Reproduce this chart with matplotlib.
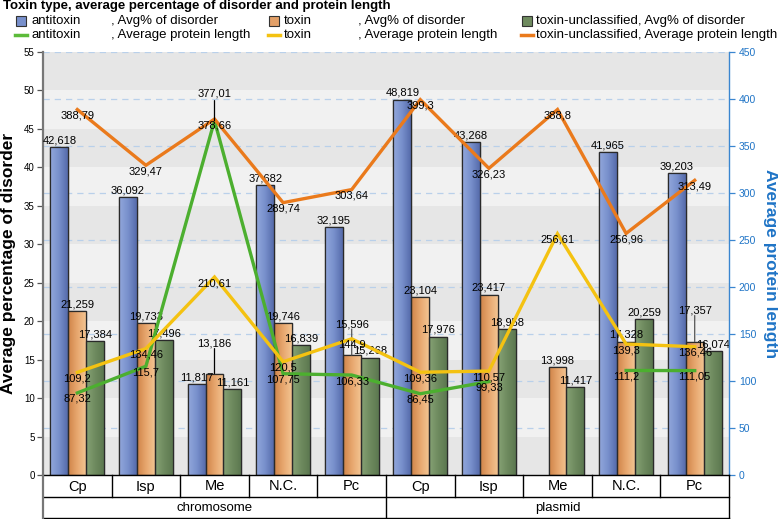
import numpy as np
import matplotlib
matplotlib.use("Agg")
import matplotlib.pyplot as plt
from matplotlib.colors import to_rgb
from matplotlib.lines import Line2D
from matplotlib.patches import Rectangle

plt.rcParams['font.family'] = ['Liberation Sans', 'DejaVu Sans']

# ---------------- data ----------------
categories = ["Cp", "Isp", "Me", "N.C.", "Pc", "Cp", "Isp", "Me", "N.C.", "Pc"]
groups = ["chromosome", "plasmid"]

antitoxin_dis = [42.618, 36.092, 11.817, 37.682, 32.195, 48.819, 43.268, np.nan, 41.965, 39.203]
toxin_dis = [21.259, 19.733, 13.186, 19.746, 15.596, 23.104, 23.417, 13.998, 17.328, 17.357]
unclass_dis = [17.384, 17.496, 11.161, 16.839, 15.268, 17.976, 18.958, 11.417, 20.259, 16.074]

antitoxin_len = [87.32, 115.7, 377.01, 107.75, 106.33, 86.45, 99.33, np.nan, 111.2, 111.05]
toxin_len = [109.2, 134.46, 210.61, 120.5, 144.9, 109.36, 110.57, 256.61, 139.3, 136.46]
unclass_len = [388.79, 329.47, 378.66, 289.74, 303.64, 399.3, 326.23, 388.8, 256.96, 313.49]

left_ticks = list(range(0, 56, 5))
right_ticks = list(range(0, 451, 50))

# ---------------- figure ----------------
W, H = 778, 519
fig = plt.figure(figsize=(W / 100, H / 100), dpi=100)
L, R, T, B = 43, 729, 52, 475
ax = fig.add_axes([L / W, 1 - B / H, (R - L) / W, (B - T) / H])
ax2 = ax.twinx()

n = len(categories)
x = np.arange(n)
ax.set_xlim(-0.5, n - 0.5)
ax.set_ylim(0, 55)
ax2.set_ylim(0, 450)


def fmt(v):
    s = f"{v:.3f}".rstrip("0").rstrip(".")
    return s.replace(".", ",")


# background bands
for k, lo in enumerate(range(0, 55, 5)):
    col = "#e6e6e6" if k % 2 == 0 else "#f1f1f1"
    ax.axhspan(lo, lo + 5, color=col, zorder=0, lw=0)
# dashed grid for right axis (drawn on left axis, behind bars)
for v in right_ticks[1:]:
    ax.axhline(v * 55 / 450, color="#b9d0ea", lw=0.9, ls=(0, (5, 4)), zorder=0.5)

bw = 0.262
bar_specs = [
    (antitoxin_dis, -bw, ("#93a8dc", "#7890cc", "#566bab")),
    (toxin_dis, 0.0, ("#cf8448", "#e7a66e", "#f3c491")),
    (unclass_dis, bw, ("#86a275", "#6f8b5f", "#5c7850")),
]


def gradient(c3, nstep=40):
    a, m, b = [np.array(to_rgb(c)) for c in c3]
    t = np.linspace(0, 1, nstep)
    out = []
    for tt in t:
        if tt < 0.5:
            out.append(a + (m - a) * tt * 2)
        else:
            out.append(m + (b - m) * (tt - 0.5) * 2)
    return np.array(out)[None, :, :]


for vals, off, cols in bar_specs:
    bars = ax.bar(x + off, vals, width=bw, color=cols[1], edgecolor="#2a2a2a",
                  linewidth=0.9, zorder=3)
    g = gradient(cols)
    for r in bars:
        h = r.get_height()
        if np.isnan(h):
            continue
        x0 = r.get_x()
        im = ax.imshow(g, extent=(x0, x0 + r.get_width(), 0, h), aspect="auto",
                       zorder=3.1, interpolation="bilinear")
        im.set_clip_path(r)
        r2 = Rectangle((x0, 0), r.get_width(), h, fill=False, edgecolor="#2a2a2a",
                       lw=0.9, zorder=3.2)
        ax.add_patch(r2)
ax.set_xlim(-0.5, n - 0.5)
ax.set_ylim(0, 55)
ax.set_aspect("auto")

# bar labels
lead = {(1, 2): 23, (1, 4): 24, (1, 9): 24}
for si, (vals, off, cols) in enumerate(bar_specs):
    for i, v in enumerate(vals):
        if np.isnan(v):
            continue
        d = lead.get((si, i), 0)
        ax.annotate(fmt(v), (x[i] + off, v), xytext=(0, 2 + d), textcoords="offset pixels",
                    ha="center", va="bottom", fontsize=8, color="black", zorder=6)
        if d:
            ax.annotate("", (x[i] + off, v), xytext=(0, d + 2), textcoords="offset pixels",
                        arrowprops=dict(arrowstyle="-", color="#555555" if si == 1 and i != 2 else "black",
                                        lw=0.9, shrinkA=0, shrinkB=0), zorder=6)

# lines
line_specs = [
    (antitoxin_len, "#4caf2f"),
    (toxin_len, "#f4c211"),
    (unclass_len, "#ea7a1c"),
]
for vals, c in line_specs:
    ax2.plot(x, vals, color=c, lw=2.4, zorder=4, solid_joinstyle="miter")

for si, (vals, c) in enumerate(line_specs):
    for i, v in enumerate(vals):
        if np.isnan(v):
            continue
        if si == 0 and i == 2:
            ax2.annotate(fmt(v), (x[i], v), xytext=(0, 27), textcoords="offset pixels",
                         ha="center", va="center", fontsize=8, zorder=7)
            ax2.annotate("", (x[i], v), xytext=(0, 20), textcoords="offset pixels",
                         arrowprops=dict(arrowstyle="-", color="black", lw=0.9,
                                         shrinkA=0, shrinkB=0), zorder=7)
            continue
        ax2.annotate(fmt(v), (x[i], v), xytext=(0, -6), textcoords="offset pixels",
                     ha="center", va="center", fontsize=8, zorder=7)

# axes styling
ax.set_xticks([])
ax.set_yticks(left_ticks)
ax.set_yticklabels([str(t) for t in left_ticks], fontsize=7)
ax.tick_params(axis="y", length=4, width=0.9, color="#555555", pad=2)
ax2.set_yticks(right_ticks)
ax2.set_yticklabels([str(t) for t in right_ticks], fontsize=7.5, color="#1f74c6")
ax2.tick_params(axis="y", length=4, width=0.9, color="#3a86d0", pad=3)
for a in (ax, ax2):
    for s in ("top", "bottom"):
        a.spines[s].set_visible(False)
ax.spines["right"].set_visible(False)
ax2.spines["left"].set_visible(False)
ax.spines["left"].set_color("#777777")
ax.spines["left"].set_linewidth(1.6)
ax2.spines["right"].set_color("#3a86d0")
ax2.spines["right"].set_linewidth(1.0)
ax.set_ylabel("Average percentage of disorder", fontsize=12.5, fontweight="bold", labelpad=6)
ax2.set_ylabel("Average protein length", fontsize=12.5, fontweight="bold",
               color="#1f74c6", rotation=270, labelpad=16)


# category table below the axis
def fy(p):
    return 1 - p / H


def fx(p):
    return p / W


cw = (R - L) / n
fig.add_artist(Line2D([fx(L), fx(R)], [fy(B), fy(B)], color="black", lw=1.0))
fig.add_artist(Line2D([fx(L), fx(R)], [fy(497), fy(497)], color="black", lw=1.0))
fig.add_artist(Line2D([fx(L), fx(R)], [fy(517.5), fy(517.5)], color="black", lw=1.0))
fig.add_artist(Line2D([fx(L), fx(L)], [fy(B), fy(518)], color="#777777", lw=1.6))
fig.add_artist(Line2D([fx(R), fx(R)], [fy(B), fy(518)], color="black", lw=1.0))
for i in range(1, n):
    xx = L + i * cw
    y2 = 518 if i == n // 2 else 497
    fig.add_artist(Line2D([fx(xx), fx(xx)], [fy(B), fy(y2)], color="black", lw=1.0))
for i, c in enumerate(categories):
    fig.text(fx(L + (i + 0.5) * cw), fy(486.5), c, ha="center", va="center", fontsize=10.5)
for gi, gname in enumerate(groups):
    fig.text(fx(L + (gi * 5 + 2.5) * cw), fy(508), gname, ha="center", va="center", fontsize=9.5)

# title and legend
fig.text(fx(3), fy(6), "Toxin type, average percentage of disorder and protein length",
         ha="left", va="center", fontsize=9.5, fontweight="bold")
leg_rows = [
    [("box", "#7890cc", "antitoxin", ", Avg% of disorder", 16, 31, 111),
     ("box", "#e3a068", "toxin", ", Avg% of disorder", 269, 284, 358),
     ("box", "#6f8b5f", "toxin-unclassified, Avg% of disorder", "", 522, 536, None)],
    [("line", "#5cbb3a", "antitoxin", ", Average protein length", 16, 31, 111),
     ("line", "#f4c211", "toxin", ", Average protein length", 269, 284, 358),
     ("line", "#ea7a1c", "toxin-unclassified, Average protein length", "", 522, 536, None)],
]
for ri, row in enumerate(leg_rows):
    yy = 21 if ri == 0 else 35
    for kind, col, t1, t2, xm, xt1, xt2 in row:
        if kind == "box":
            fig.add_artist(Rectangle((fx(xm), fy(yy + 5)), 10 / W, 10 / H, facecolor=col,
                                     edgecolor="#333333", lw=0.8))
        else:
            fig.add_artist(Line2D([fx(xm - 1), fx(xm + 11)], [fy(yy), fy(yy)], color=col, lw=2.5))
        fig.text(fx(xt1), fy(yy), t1, ha="left", va="center", fontsize=9.5)
        if t2:
            fig.text(fx(xt2), fy(yy), t2, ha="left", va="center", fontsize=9.5)

fig.savefig("out.png", dpi=100)
